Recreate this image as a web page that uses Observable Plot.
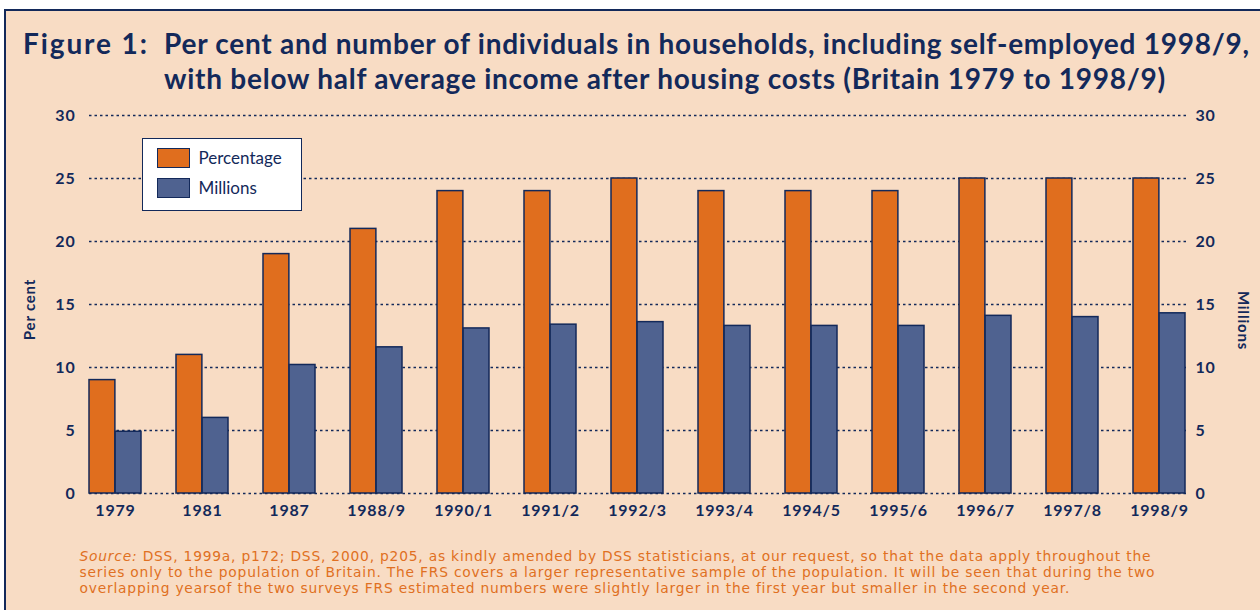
<!DOCTYPE html>
<html>
<head>
<meta charset="utf-8">
<script src="https://cdn.jsdelivr.net/npm/d3@7"></script>
<script src="https://cdn.jsdelivr.net/npm/@observablehq/plot@0.6"></script>
<style>
  html, body { margin: 0; padding: 0; width: 1260px; height: 610px; overflow: hidden; background: #ffffff; }
  #frame { position: absolute; left: 4px; top: 9px; width: 1300px; height: 700px; border-top: 2.5px solid #13295a; border-left: 2.5px solid #13295a; background: #f8dcc4; box-sizing: border-box; }
  .t { position: absolute; font-family: Lato, "Open Sans", sans-serif; color: #13295a; white-space: nowrap; }
  #fig { left: 17px; top: 15px; font-size: 28px; font-weight: 700; line-height: 35px; letter-spacing: 1.9px; }
  #title { left: 158px; top: 15px; font-size: 28px; font-weight: 700; line-height: 35px; letter-spacing: 0.75px; }
  #plot { position: absolute; left: -6.5px; top: 91.5px; }
  #legend { position: absolute; left: 135.5px; top: 126.5px; width: 160px; height: 73px; background: #ffffff; border: 1.5px solid #13295a; box-sizing: border-box; }
  .sw { position: absolute; left: 14px; width: 33px; height: 20px; border: 1.5px solid #13295a; box-sizing: border-box; }
  .lt { position: absolute; left: 56px; font-family: Lato, sans-serif; font-size: 17px; line-height: 20px; color: #13295a; }
  #source { left: 73.5px; top: 537px; font-family: "DejaVu Sans", sans-serif; font-size: 13.8px; line-height: 16.2px; letter-spacing: 0.8px; color: #e07022; }
</style>
</head>
<body>
<div id="frame">
  <div class="t" id="fig">Figure 1:</div>
  <div class="t" id="title">Per cent and number of individuals in households, including self-employed 1998/9,<br>with below half average income after housing costs (Britain 1979 to 1998/9)</div>
  <div id="plot"></div>
  <div id="legend">
    <div class="sw" style="top:9px;background:#e06e1e"></div><div class="lt" style="top:9px">Percentage</div>
    <div class="sw" style="top:39px;background:#4f6290"></div><div class="lt" style="top:39px">Millions</div>
  </div>
  <div class="t" id="source"><i>Source:</i> DSS, 1999a, p172; DSS, 2000, p205, as kindly amended by DSS statisticians, at our request, so that the data apply throughout the<br>series only to the population of Britain. The FRS covers a larger representative sample of the population. It will be seen that during the two<br>overlapping yearsof the two surveys FRS estimated numbers were slightly larger in the first year but smaller in the second year.</div>
</div>
<script>
const years = ["1979","1981","1987","1988/9","1990/1","1991/2","1992/3","1993/4","1994/5","1995/6","1996/7","1997/8","1998/9"];
const percentage = [9, 11, 19, 21, 24, 24, 25, 24, 24, 24, 25, 25, 25];
const millions = [4.9, 6.0, 10.2, 11.6, 13.1, 13.4, 13.6, 13.3, 13.3, 13.3, 14.1, 14.0, 14.3];
const yTicks = [0, 5, 10, 15, 20, 25, 30];

const navy = "#13295a";
const data = years.map((y, i) => ({year: y, pct: percentage[i], mil: millions[i]}));

const W = 1260, H = 430;
const mL = 89, mR = 74;
const step = (W - mL - mR) / (years.length - 0.4);
const half = step * 0.6 / 2;

const chart = Plot.plot({
  width: W, height: H,
  marginLeft: mL, marginRight: mR, marginTop: 12, marginBottom: 40,
  style: {background: "transparent", fontFamily: "Lato, sans-serif", color: navy, overflow: "visible"},
  x: {domain: years, paddingInner: 0.4, paddingOuter: 0, label: null},
  y: {domain: [0, 30], label: null},
  marks: [
    Plot.ruleY(yTicks, {stroke: navy, strokeWidth: 1.3, strokeDasharray: "2.5,3"}),
    Plot.barY(data, {x: "year", y: "pct", fill: "#e06e1e", stroke: navy, strokeWidth: 1.5, insetRight: half}),
    Plot.barY(data, {x: "year", y: "mil", fill: "#4f6290", stroke: navy, strokeWidth: 1.5, insetLeft: half}),
    Plot.axisX({tickSize: 0, tickPadding: 11, fontSize: 16, fontWeight: 700, label: null}),
    Plot.axisY(yTicks, {anchor: "left", tickSize: 0, tickPadding: 14, fontSize: 16, fontWeight: 700, label: null}),
    Plot.axisY(yTicks, {anchor: "right", tickSize: 0, tickPadding: 9, fontSize: 16, fontWeight: 700, label: null}),
    Plot.text(["Per cent"], {frameAnchor: "left", textAnchor: "middle", dx: -59, dy: 5, rotate: -90, fontSize: 15, fontWeight: 700, fill: navy}),
    Plot.text(["Millions"], {frameAnchor: "right", textAnchor: "middle", dx: 56, dy: 16, rotate: 90, fontSize: 15, fontWeight: 700, fill: navy})
  ]
});
chart.querySelectorAll("text").forEach(t => { t.setAttribute("fill", navy); t.style.letterSpacing = "0.8px"; });
document.getElementById("plot").appendChild(chart);
</script>
</body>
</html>
